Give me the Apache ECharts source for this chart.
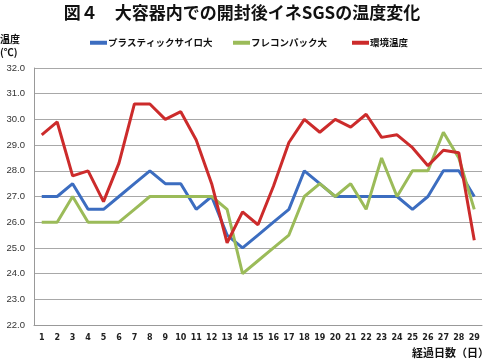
<!DOCTYPE html>
<html><head><meta charset="utf-8">
<script src="https://cdn.jsdelivr.net/npm/echarts@6/dist/echarts.min.js"></script>
<style>html,body{margin:0;padding:0;background:#fff}#c{width:484px;height:363px}</style>
</head><body><div id="c"></div>
<script>
const days = ['1','2','3','4','5','6','7','8','9','10','11','12','13','14','15','16','17','18','19','20','21','22','23','24','25','26','27','28','29'];
const plasticSilo = [27.0,27.0,27.5,26.5,26.5,27.0,27.5,28.0,27.5,27.5,26.5,27.0,25.5,25.0,25.5,26.0,26.5,28.0,27.5,27.0,27.0,27.0,27.0,27.0,26.5,27.0,28.0,28.0,27.0];
const flexibleBag = [26.0,26.0,27.0,26.0,26.0,26.0,26.5,27.0,27.0,27.0,27.0,27.0,26.5,24.0,24.5,25.0,25.5,27.0,27.5,27.0,27.5,26.5,28.5,27.0,28.0,28.0,29.5,28.5,26.5];
const ambient = [29.4,29.9,27.8,28.0,26.8,28.3,30.6,30.6,30.0,30.3,29.2,27.5,25.2,26.4,25.9,27.4,29.1,30.0,29.5,30.0,29.7,30.2,29.3,29.4,28.9,28.2,28.8,28.7,25.3];
const names = ['プラスティックサイロ大','フレコンパック大','環境温度'];
const colors = ['#3c6dc0','#9bbb59','#cc2b2b'];
const yTicks = {min:22, max:32, interval:1};

const jp = '"Noto Sans CJK JP", "Noto Sans", sans-serif';
const chart = echarts.init(document.getElementById('c'));
const legendLefts = [90, 233, 352];
chart.setOption({
  animation:false,
  title:{text:'図４　大容器内での開封後イネSGSの温度変化', left:'center', top:-1,
    textStyle:{fontFamily:jp, fontSize:17, fontWeight:'bold', color:'#111'}},
  legend: names.map((n,i)=>({data:[n], left:legendLefts[i], top:38, padding:0, icon:'rect', itemWidth:17, itemHeight:4, itemGap:0,
    textStyle:{fontFamily:jp, fontSize:9.5, fontWeight:'bold', color:'#111', padding:[0,0,0,-4]}})),
  grid:{left:34, right:2, top:68, bottom:38},
  xAxis:{type:'category', data:days, boundaryGap:true,
    axisLine:{lineStyle:{color:'#999'}}, axisTick:{show:false},
    axisLabel:{fontFamily:'"DejaVu Sans", sans-serif', fontSize:8, fontWeight:'bold', color:'#222', margin:9, interval:0}},
  yAxis:{type:'value', min:yTicks.min, max:yTicks.max, interval:yTicks.interval,
    axisLine:{show:true, lineStyle:{color:'#999'}}, axisTick:{show:false},
    splitLine:{lineStyle:{color:'#a8a8a8', width:1}},
    axisLabel:{formatter:v=>v.toFixed(1), fontFamily:'"Liberation Sans", Arial, sans-serif', fontSize:9.5, color:'#333', margin:9}},
  graphic:[
    {type:'text', left:0, top:33, style:{text:'温度\n(℃)', fontFamily:jp, fontSize:10, fontWeight:'bold', fill:'#111', lineHeight:13}},
    {type:'text', left:412, top:347, style:{text:'経過日数（日）', fontFamily:jp, fontSize:11, fontWeight:'bold', fill:'#111'}}
  ],
  series:[plasticSilo, flexibleBag, ambient].map((d,i)=>({
    name:names[i], type:'line', data:d, symbol:'none', z: i===2?3:2,
    lineStyle:{color:colors[i], width:3}, itemStyle:{color:colors[i]}
  }))
});
</script></body></html>
